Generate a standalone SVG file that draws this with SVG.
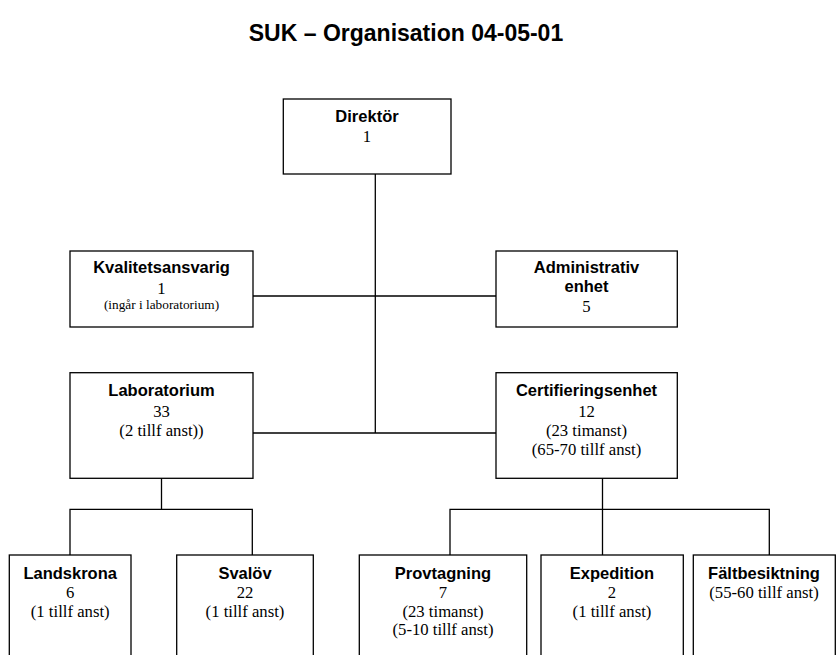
<svg xmlns="http://www.w3.org/2000/svg" width="837" height="655" viewBox="0 0 837 655">
<style>
.box{fill:#fff;stroke:#000;stroke-width:1.3}
.ln{fill:none;stroke:#000;stroke-width:1.3}
.h{font-family:"Liberation Sans",Arial,sans-serif;font-weight:bold;font-size:16.5px;text-anchor:middle;fill:#000}
.t{font-family:"Liberation Serif","Times New Roman",serif;font-size:16.7px;text-anchor:middle;fill:#000}
.s{font-family:"Liberation Serif","Times New Roman",serif;font-size:13.3px;text-anchor:middle;fill:#000}
.title{font-family:"Liberation Sans",Arial,sans-serif;font-weight:bold;font-size:23px;text-anchor:middle;fill:#000}
</style>
<rect width="837" height="655" fill="#fff"/>
<text class="title" x="406" y="41">SUK – Organisation 04-05-01</text>
<g id="connectors">
<path class="ln" d="M375.3 174V433"/>
<path class="ln" d="M253 296H496"/>
<path class="ln" d="M253 433H496"/>
<path class="ln" d="M161.5 478V509.3M70 555V509.3H252.3V555"/>
<path class="ln" d="M602.5 478V555M450 555V509.3H769.3V555"/>
</g>
<g id="direktor">
<rect class="box" x="283.3" y="99" width="167.7" height="75"/>
<text class="h" x="367" y="122">Direktör</text>
<text class="t" x="367" y="142">1</text>
</g>
<g id="kvalitetsansvarig">
<rect class="box" x="70" y="251" width="183" height="76"/>
<text class="h" x="161.5" y="273">Kvalitetsansvarig</text>
<text class="t" x="161.5" y="294">1</text>
<text class="s" x="161.5" y="309">(ingår i laboratorium)</text>
</g>
<g id="administrativ">
<rect class="box" x="496" y="251" width="181.3" height="76"/>
<text class="h" x="586.5" y="273">Administrativ</text>
<text class="h" x="586.5" y="291.5">enhet</text>
<text class="t" x="586.5" y="312">5</text>
</g>
<g id="laboratorium">
<rect class="box" x="70" y="372.7" width="183" height="105.6"/>
<text class="h" x="161.5" y="396">Laboratorium</text>
<text class="t" x="161.5" y="416.5">33</text>
<text class="t" x="161.5" y="436">(2 tillf anst))</text>
</g>
<g id="certifieringsenhet">
<rect class="box" x="496" y="372.7" width="181.3" height="105.6"/>
<text class="h" x="586.5" y="396">Certifieringsenhet</text>
<text class="t" x="586.5" y="416.5">12</text>
<text class="t" x="586.5" y="436">(23 timanst)</text>
<text class="t" x="586.5" y="454.5">(65-70 tillf anst)</text>
</g>
<g id="landskrona">
<rect class="box" x="9.3" y="555" width="121.7" height="110"/>
<text class="h" x="70.2" y="579">Landskrona</text>
<text class="t" x="70.2" y="598">6</text>
<text class="t" x="70.2" y="616.5">(1 tillf anst)</text>
</g>
<g id="svalov">
<rect class="box" x="176.7" y="555" width="136.6" height="110"/>
<text class="h" x="245" y="579">Svalöv</text>
<text class="t" x="245" y="598">22</text>
<text class="t" x="245" y="616.5">(1 tillf anst)</text>
</g>
<g id="provtagning">
<rect class="box" x="359.3" y="555" width="167.4" height="110"/>
<text class="h" x="443" y="579">Provtagning</text>
<text class="t" x="443" y="598">7</text>
<text class="t" x="443" y="616.5">(23 timanst)</text>
<text class="t" x="443" y="635">(5-10 tillf anst)</text>
</g>
<g id="expedition">
<rect class="box" x="541" y="555" width="142.3" height="110"/>
<text class="h" x="612" y="579">Expedition</text>
<text class="t" x="612" y="598">2</text>
<text class="t" x="612" y="616.5">(1 tillf anst)</text>
</g>
<g id="faltbesiktning">
<rect class="box" x="693.3" y="555" width="142" height="110"/>
<text class="h" x="764" y="579">Fältbesiktning</text>
<text class="t" x="764" y="598">(55-60 tillf anst)</text>
</g>
</svg>
